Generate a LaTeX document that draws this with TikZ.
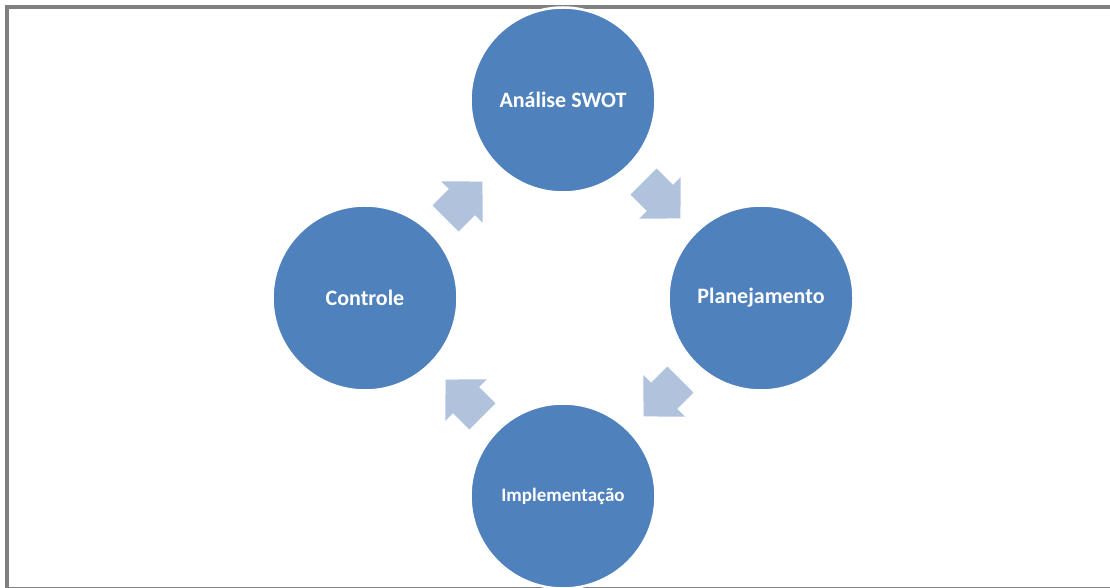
\documentclass[tikz,border=0pt]{standalone}
\usepackage{fontspec}
\setmainfont{Carlito}
\begin{document}
\begin{tikzpicture}[x=1pt,y=1pt,
  stage/.style={circle,fill=circblue,draw=white,line width=2.5pt,minimum size=185pt,inner sep=0pt,
    text=white,font=\bfseries\fontsize{22}{25}\selectfont},
  cyclearrow/.style={fill=arrowblue,draw=none}]
\definecolor{circblue}{HTML}{4F81BD}
\definecolor{arrowblue}{HTML}{B1C2DD}
\definecolor{framegray}{HTML}{808080}
\useasboundingbox (0,0) rectangle (1110,588);
\clip (0,0) rectangle (1110,588);
\draw[framegray,line width=3.5pt] (7,-0.5) rectangle (1125,581);
\node[stage] (swot) at (563,488) {Análise SWOT};
\node[stage] (plan) at (761,290) {Planejamento};
\node[stage,font=\bfseries\fontsize{19}{22}\selectfont] (impl) at (563,92) {Implementação};
\node[stage] (ctrl) at (365,290) {Controle};
\foreach \cx/\cy/\ang in {464/388/45, 662/388/-45, 662/190/-135, 464/190/135}{
  \fill[cyclearrow,shift={(\cx,\cy)},rotate=\ang]
    (-26,-18.5) -- (-3,-18.5) -- (-3,-29.5) -- (26,0) -- (-3,29.5) -- (-3,18.5) -- (-26,18.5) -- cycle;
}
\end{tikzpicture}
\end{document}
